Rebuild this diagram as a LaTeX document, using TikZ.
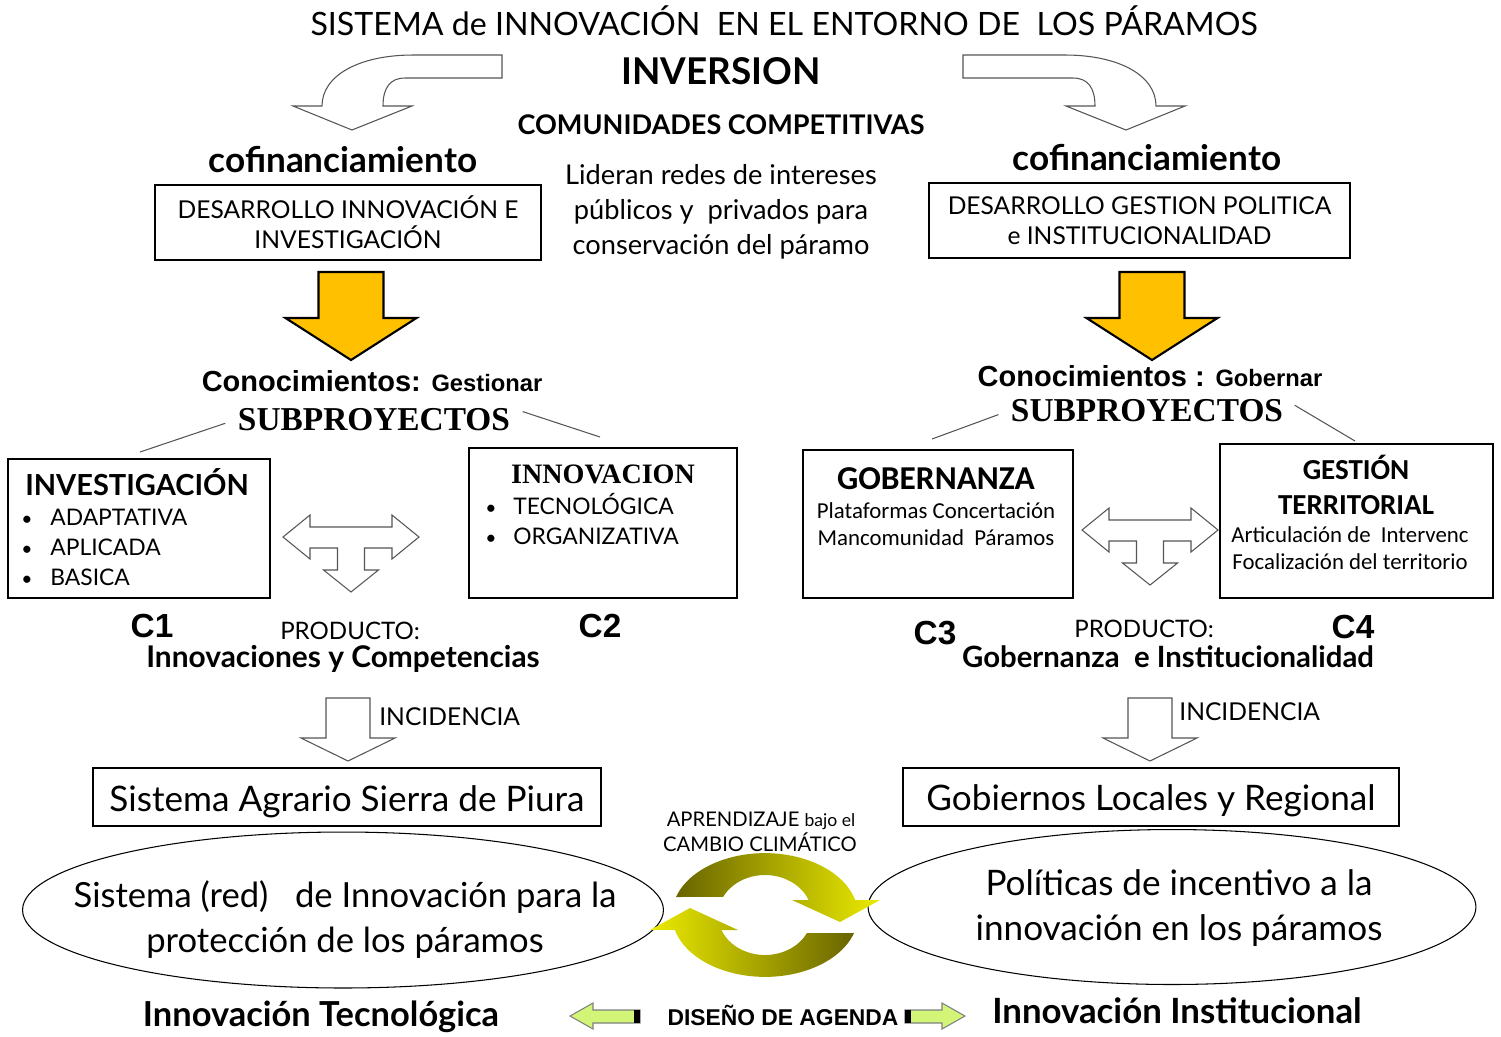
\documentclass[tikz,border=0pt]{standalone}
\usepackage{fontspec}
\setmainfont{Lato}
\newfontfamily\arialf{Liberation Sans}
\newfontfamily\timesf{Liberation Serif}
\newfontfamily\calf{Carlito}
\usetikzlibrary{calc,shapes.geometric}
\definecolor{orng}{RGB}{255,192,0}
\definecolor{olv}{RGB}{105,100,0}
\definecolor{ylw}{RGB}{235,235,0}
\definecolor{lgreen}{RGB}{210,245,120}
\definecolor{agray}{RGB}{85,85,85}
\newcommand{\fs}[1]{\fontsize{#1}{#1}\selectfont}
\tikzset{
  box/.style={draw, line width=0.7pt, inner sep=0pt},
  txt/.style={anchor=base, inner sep=0pt},
  lft/.style={anchor=base west, inner sep=0pt},
  hollow/.style={draw=agray, fill=white, line width=0.6pt},
  orngarrow/.style={draw=black, fill=orng, line width=1.2pt, line join=miter},
  garrow/.style={draw=gray, fill=lgreen, line width=0.6pt},
  link/.style={draw=agray, line width=0.6pt, shorten <=0.26cm},
}
\def\tarrow(#1,#2){\draw[hollow, shift={(#1,#2)}] (-68,0) -- (-41,-22) -- (-41,-10) -- (41,-10) -- (41,-22) -- (68,0) -- (41,22) -- (41,11) -- (13.5,11) -- (13.5,33) -- (27.5,33) -- (0,55) -- (-27.5,33) -- (-13.5,33) -- (-13.5,11) -- (-41,11) -- (-41,22) -- cycle;}
\def\dnarrow(#1,#2){\draw[hollow, shift={(#1,#2)}] (-22,0) -- (22,0) -- (22,40) -- (47,40) -- (0,63) -- (-47,40) -- (-22,40) -- cycle;}
\def\orarrow(#1,#2){\draw[orngarrow, shift={(#1,#2)}] (-32.5,0) -- (32.5,0) -- (32.5,46) -- (65.5,46) -- (0,88) -- (-65.5,46) -- (-32.5,46) -- cycle;}

\begin{document}
\begin{tikzpicture}[x=0.02cm, y=-0.02cm]
		%%%%% START %%%%%
		\useasboundingbox (0,0) rectangle (1501,1036);
		
		\node[txt] (title) at (784,35) {\fs{18.3}SISTEMA de INNOVACIÓN\ \ EN EL ENTORNO DE\ \ LOS PÁRAMOS};
		\node[txt] (inv) at (721,84) {\fs{21}\bfseries INVERSION};
		\node[txt] (com) at (721,134) {\fs{15.4}\bfseries COMUNIDADES COMPETITIVAS};
		
		\draw[hollow] (502,55) -- (413,55) .. controls (360,55) and (322,75) .. (322,106) -- (293,106) -- (352,130) -- (412,106) -- (383,106) .. controls (383,88) and (390,78) .. (405,78) -- (502,78) -- cycle;
		\draw[hollow] (963,55) -- (1065,55) .. controls (1118,55) and (1156,75) .. (1156,106) -- (1185,106) -- (1126,130) -- (1066,106) -- (1095,106) .. controls (1095,88) and (1088,78) .. (1073,78) -- (963,78) -- cycle;
		
		\node[txt] (cofL) at (343,172) {\fs{20}\bfseries cofinanciamiento};
		\node[txt] (cofR) at (1147,170) {\fs{20}\bfseries cofinanciamiento};
		
		\node[box, minimum width=7.72cm, minimum height=1.5cm, align=center, font={\fontsize{14}{17}\selectfont}] (desL) at (348,222.5) {DESARROLLO INNOVACIÓN E\\INVESTIGACIÓN};
		\node[box, minimum width=8.42cm, minimum height=1.5cm, align=center, font={\fontsize{14}{17}\selectfont}] (desR) at (1139.5,220.5) {DESARROLLO GESTION POLITICA\\e INSTITUCIONALIDAD};
		
		\node[inner sep=0pt, align=center, font={\fontsize{15.5}{20}\selectfont}] (lid) at (721,212) {Lideran redes de intereses\\públicos y\ \ privados para\\conservación del páramo};
		
		\orarrow(351,272);
		\orarrow(1152,272);
		
		\node[txt] (conL) at (372,391) {\arialf\bfseries\fs{16.5}Conocimientos: \fs{13.5}Gestionar};
		\node[txt] (conR) at (1150,386) {\arialf\bfseries\fs{16.5}Conocimientos : \fs{13.5}Gobernar};
		\node[txt] (subL) at (374,430) {\timesf\bfseries\fs{19}SUBPROYECTOS};
		\node[txt] (subR) at (1147,421) {\timesf\bfseries\fs{19}SUBPROYECTOS};
		
		% components
		\node[box, minimum width=5.24cm, minimum height=2.78cm] (c1) at (139,528.5) {};
		\node[box, minimum width=5.36cm, minimum height=3cm] (c2) at (603,523) {};
		\node[box, minimum width=5.4cm, minimum height=2.96cm] (c3) at (938,524) {};
		\node[box, minimum width=5.46cm, minimum height=3.08cm] (c4) at (1356.5,521) {};
		
		\coordinate (e1) at (140,452);
		\coordinate (e2) at (600,437);
		\coordinate (e3) at (932,439);
		\coordinate (e4) at (1355,441);
		\draw[link] (subL.west) -- (e1);
		\draw[link] (subL.north east) -- (e2);
		\draw[link] (subR.west) -- (e3);
		\draw[link] (subR.north east) -- (e4);
		
		\node[txt] (inv1) at (137,495) {\fs{16.5}\bfseries INVESTIGACIÓN};
		\node[lft] (b11) at (21,525) {\fs{11}•};
		\node[lft] (i11) at (50,525) {\fs{13}ADAPTATIVA};
		\node[lft] (b12) at (21,555) {\fs{11}•};
		\node[lft] (i12) at (50,555) {\fs{13}APLICADA};
		\node[lft] (b13) at (21,585) {\fs{11}•};
		\node[lft] (i13) at (50,585) {\fs{13}BASICA};
		
		\node[txt] (inn2) at (603,483) {\timesf\bfseries\fs{16}INNOVACION};
		\node[lft] (b21) at (485,514) {\fs{11}•};
		\node[lft] (i21) at (513,514) {\fs{13}TECNOLÓGICA};
		\node[lft] (b22) at (485,544) {\fs{11}•};
		\node[lft] (i22) at (513,544) {\fs{13}ORGANIZATIVA};
		
		\node[txt] (gob3) at (936,489) {\calf\bfseries\fs{19}GOBERNANZA};
		\node[txt] (pla3) at (936,518) {\calf\fs{13}Plataformas Concertación};
		\node[txt] (man3) at (936,545) {\calf\fs{13}Mancomunidad\ \ Páramos};
		
		\node[txt] (ges4) at (1356,479) {\calf\bfseries\fs{16.5}GESTIÓN};
		\node[txt] (ter4) at (1356,514) {\calf\bfseries\fs{16.5}TERRITORIAL};
		\node[txt] (art4) at (1350,542) {\calf\fs{13}Articulación de\ \ Intervenc};
		\node[txt] (foc4) at (1350,569) {\calf\fs{13}Focalización del territorio};
		
		\tarrow(351,537);
		\tarrow(1150,530);
		
		\node[txt] (lc1) at (152,637) {\arialf\bfseries\fs{19}C1};
		\node[txt] (lc2) at (600,637) {\arialf\bfseries\fs{19}C2};
		\node[txt] (lc3) at (935,644) {\arialf\bfseries\fs{19}C3};
		\node[txt] (lc4) at (1353,638) {\arialf\bfseries\fs{19}C4};
		
		\node[txt] (proL) at (350,639) {\fs{13.7}PRODUCTO:};
		\node[txt] (proR) at (1144,637) {\fs{13.7}PRODUCTO:};
		\node[txt] (resL) at (343,667) {\fs{17}\bfseries Innovaciones y Competencias};
		\node[txt] (resR) at (1168,667) {\fs{16.7}\bfseries Gobernanza\ \ e Institucionalidad};
		
		% incidencia
		\dnarrow(348,698);
		\dnarrow(1150,698);
		\node[lft] (incL) at (379,725) {\fs{14}INCIDENCIA};
		\node[lft] (incR) at (1179,720) {\fs{14}INCIDENCIA};
		
		\node[box, minimum width=10.16cm, minimum height=1.16cm] (agr) at (347,797) {};
		\node[box, minimum width=9.92cm, minimum height=1.16cm] (gob) at (1151,797) {};
		\node[txt] (agrt) at (347,811) {\fs{20}Sistema Agrario Sierra de Piura};
		\node[txt] (gobt) at (1151,810) {\fs{20}Gobiernos Locales y Regional};
		
		\node[draw, ellipse, line width=0.6pt, minimum width=12.82cm, minimum height=3.12cm] (ellL) at (343,910) {};
		\node[draw, ellipse, line width=0.6pt, minimum width=12.16cm, minimum height=3.1cm] (ellR) at (1172,907) {};
		\node[txt] (ell1) at (345,907) {\fs{19.7}Sistema (red)\ \ \ de Innovación para la};
		\node[txt] (ell2) at (345,952) {\fs{19.7}protección de los páramos};
		\node[txt] (ell3) at (1179,895) {\fs{20}Políticas de incentivo a la};
		\node[txt] (ell4) at (1179,940) {\fs{20}innovación en los páramos};
		
		% ciclo
		\node[txt] (apr) at (761,826) {\fs{11.5}APRENDIZAJE \fs{10}bajo el};
		\node[txt] (cam) at (760,851) {\fs{11.5}CAMBIO CLIMÁTICO};
		\shade[left color=olv, right color=ylw] (676,897) arc[start angle=-163, end angle=-14, x radius=93, y radius=62] -- (880,900) -- (840,922) -- (792,900) -- (808.6,900) arc[start angle=-22, end angle=-153, x radius=47, y radius=40] -- cycle;
		\shade[left color=ylw, right color=olv] (854,933) arc[start angle=17, end angle=166, x radius=93, y radius=62] -- (650,930) -- (690,908) -- (738,930) -- (721.4,930) arc[start angle=158, end angle=27, x radius=47, y radius=40] -- cycle;
		
		% agenda
		\node[txt] (tec) at (321,1026) {\fs{19.6}\bfseries Innovación Tecnológica};
		\node[txt] (ins) at (1177,1023) {\fs{19.8}\bfseries Innovación Institucional};
		\node[txt] (age) at (783,1025) {\arialf\bfseries\fs{13}DISEÑO DE AGENDA};
		\draw[garrow] (570,1016) -- (593,1003) -- (593,1010) -- (640,1010) -- (640,1023) -- (593,1023) -- (593,1029) -- cycle;
		\fill (634,1010) rectangle (640,1023);
		\draw[garrow] (965,1016) -- (942,1003) -- (942,1010) -- (905,1010) -- (905,1023) -- (942,1023) -- (942,1029) -- cycle;
		\fill (905,1010) rectangle (911,1023);
		
		%%%%% END %%%%%
\end{tikzpicture}
\end{document}
